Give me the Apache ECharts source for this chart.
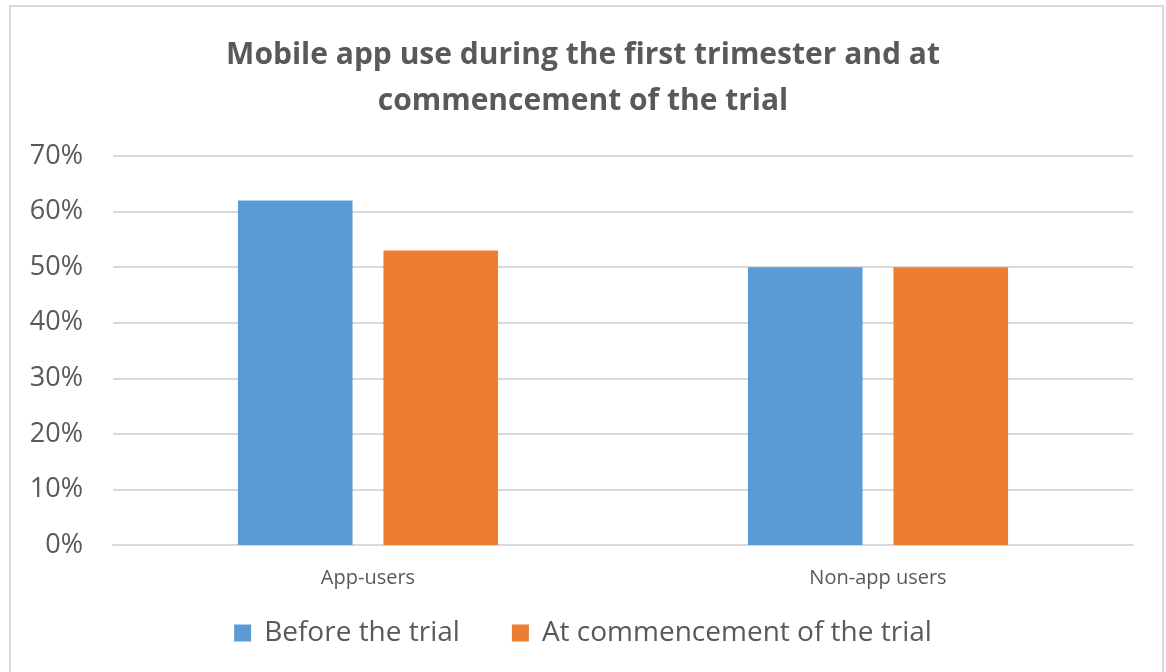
<!DOCTYPE html>
<html>
<head>
<meta charset="utf-8">
<script src="https://cdn.jsdelivr.net/npm/echarts@6/dist/echarts.min.js"></script>
<style>
html,body{margin:0;padding:0;background:#fff;}
#chart{width:1166px;height:672px;}
</style>
</head>
<body>
<div id="chart"></div>
<script>
const titleText = 'Mobile app use during the first trimester and at\ncommencement of the trial';
const categories = ['App-users', 'Non-app users'];
const seriesNames = ['Before the trial', 'At commencement of the trial'];
const beforeTrial = [62, 50];
const atCommencement = [53, 50];
const yTicks = [0, 10, 20, 30, 40, 50, 60, 70];

const font = "'Open Sans', sans-serif";
const chart = echarts.init(document.getElementById('chart'));
chart.setOption({
  animation: false,
  backgroundColor: '#fff',
  graphic: [{
    type: 'rect', silent: true,
    shape: {x: 10, y: 6, width: 1153, height: 700},
    style: {fill: 'none', stroke: '#d9d9d9', lineWidth: 2}
  }],
  title: {
    text: titleText,
    left: 'center', top: 27,
    textStyle: {fontFamily: font, fontWeight: 'bold', fontSize: 30, color: '#595959', lineHeight: 46}
  },
  legend: {
    bottom: 20, left: 'center',
    itemWidth: 17, itemHeight: 17, itemGap: 52,
    icon: 'rect',
    textStyle: {fontFamily: font, fontSize: 28, color: '#595959', padding: [0,0,0,8]},
    data: seriesNames
  },
  grid: {left: 113, right: 33, top: 156, bottom: 127, containLabel: false},
  xAxis: {
    type: 'category', data: categories,
    axisLine: {lineStyle: {color: '#d9d9d9', width: 2}},
    axisTick: {show: false},
    axisLabel: {fontFamily: font, fontSize: 20, color: '#595959', margin: 23}
  },
  yAxis: {
    type: 'value', min: 0, max: 70, interval: 10,
    axisLine: {show: false}, axisTick: {show: false},
    splitLine: {lineStyle: {color: '#d9d9d9', width: 2}},
    axisLabel: {fontFamily: font, fontSize: 27, color: '#595959', margin: 30, formatter: v => v + '%'}
  },
  series: [
    {name: seriesNames[0], type: 'bar', data: beforeTrial, barGap: '27%', barCategoryGap: '49%',
     itemStyle: {color: '#5b9bd5'}},
    {name: seriesNames[1], type: 'bar', data: atCommencement, barGap: '27%', barCategoryGap: '49%',
     itemStyle: {color: '#ed7d31'}}
  ]
});
</script>
</body>
</html>
